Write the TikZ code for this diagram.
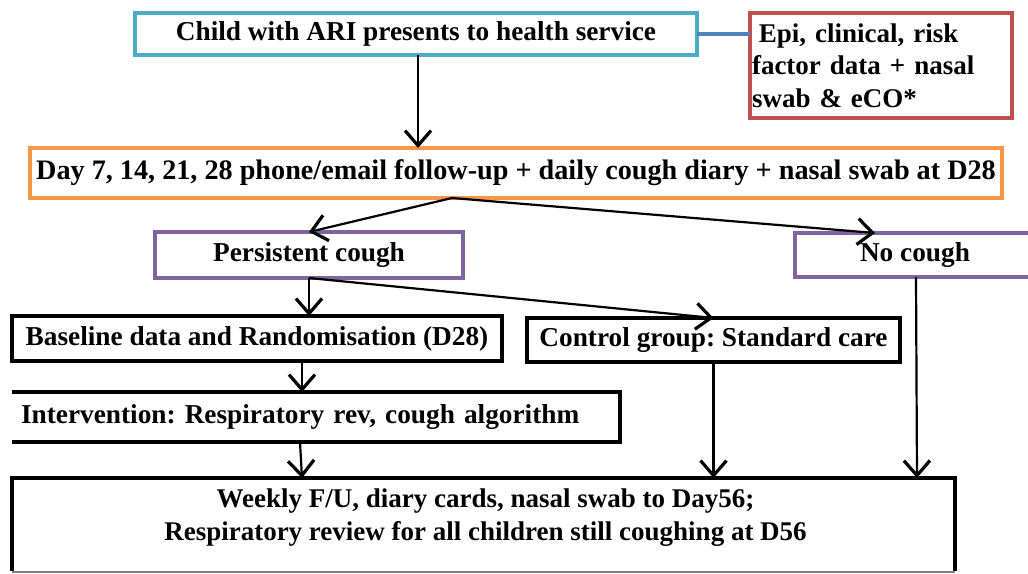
\documentclass[tikz,border=0pt]{standalone}
\usepackage{fontspec}
\setmainfont{Liberation Serif}
\usetikzlibrary{arrows.meta,calc}
\definecolor{cblue}{HTML}{4BACC6}
\definecolor{clink}{HTML}{4F81BD}
\definecolor{cred}{HTML}{C0504D}
\definecolor{corange}{HTML}{F79646}
\definecolor{cpurple}{HTML}{8064A2}
\tikzset{
  base/.style={inner sep=0pt, outer sep=0pt, anchor=north west, align=center,
    font=\fontsize{27.3}{33}\selectfont\bfseries},
  bluebox/.style={base, draw=cblue, line width=3.5pt},
  redbox/.style={base, draw=cred, line width=3.5pt, align=left},
  orangebox/.style={base, draw=corange, line width=3.5pt},
  purplebox/.style={base, draw=cpurple, line width=3.5pt},
  blackbox/.style={base, draw=black, line width=4pt},
  flow/.style={line width=2.2pt, -{Straight Barb[length=15pt,width=26pt,line width=3.2pt]}},
}
\begin{document}
\frenchspacing
\begin{tikzpicture}[x=1pt,y=-1pt]
\useasboundingbox (0,0) rectangle (1028,573);

% boxes (top-left corner, width, height)
\node[bluebox, minimum width=562pt, minimum height=42pt] (child) at (135,13)
  {Child with ARI presents to health service};
\node[redbox, minimum width=262pt, minimum height=105pt, text width=258pt,
      font=\fontsize{27}{32.5}\selectfont\bfseries] (epi) at (750,13)
  {\hspace*{0.25em}Epi, clinical, risk\\factor data + nasal\\swab \& eCO*};
\node[orangebox, minimum width=972pt, minimum height=50pt,
      font=\fontsize{28.2}{33}\selectfont\bfseries] (day) at (30,148)
  {Day 7, 14, 21, 28 phone/email follow-up + daily cough diary + nasal swab at D28};
\node[purplebox, minimum width=308pt, minimum height=46pt] (pc) at (155,232)
  {Persistent cough};
\node[purplebox, minimum width=240pt, minimum height=44pt] (nc) at (795,233)
  {No cough};
\node[blackbox, minimum width=490pt, minimum height=45pt] (rand) at (12,316)
  {Baseline data and Randomisation (D28)};
\node[blackbox, minimum width=373pt, minimum height=44pt] (ctrl) at (527,318)
  {Control group: Standard care};
\node[base, minimum width=608pt, minimum height=50pt, text width=602pt, align=left] (intv) at (12,392)
  {\hspace*{6pt}Intervention: Respiratory rev, cough algorithm};
\draw[line width=4pt] (intv.north west) -- (intv.north east) -- (intv.south east) -- (intv.south west);
\node[base, minimum width=943pt, minimum height=93pt] (fu) at (12,478) {};
\draw[line width=4pt] (fu.south west) -- (fu.north west) -- (fu.north east) -- (fu.south east);
\draw[line width=1.5pt, gray] ([yshift=-0.75pt]fu.south west) -- ([yshift=-0.75pt]fu.south east);
\node[base, anchor=north, font=\fontsize{27}{33}\selectfont\bfseries] (futext) at ($(fu.north)+(2,11)$)
  {Weekly F/U, diary cards, nasal swab to Day56;\\
   Respiratory review for all children still coughing at D56};

% connector points
\coordinate (fork) at (452,198);
\coordinate (nctop) at (875,233);
\coordinate (a1) at (302,362);
\coordinate (a2) at (302,392);
\coordinate (a3) at (300,442);
\coordinate (a4) at (302,478);

% connectors
\draw[clink, line width=3.5pt] (child.east) -- (child.east -| epi.west);
\draw[flow] (child.south -| 418,0) -- (day.north -| 418,0);
\draw[flow] (fork) -- (pc.north);
\draw[flow] (fork) -- (nctop);
\draw[flow] (pc.south) -- (pc.south |- rand.north);
\draw[flow] (pc.south) -- (ctrl.north);
\draw[flow] (a1) -- (a2);
\draw[flow] (a3) -- (a4);
\draw[flow] (ctrl.south) -- (ctrl.south |- fu.north);
\draw[flow] (nc.south -| 916,0) -- (fu.north -| 917,0);
\end{tikzpicture}
\end{document}
